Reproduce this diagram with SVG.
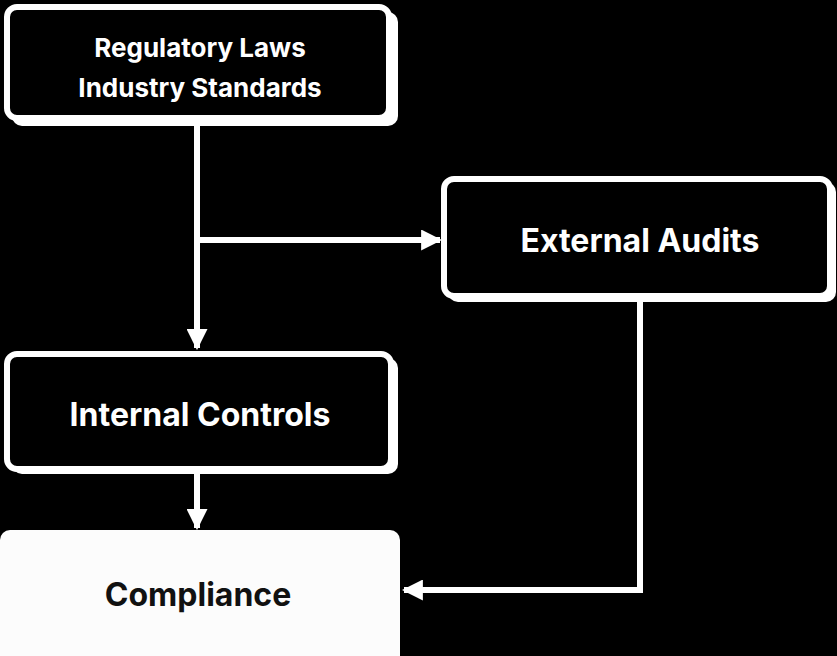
<svg xmlns="http://www.w3.org/2000/svg" width="837" height="656" viewBox="0 0 837 656">
<style>
.box{fill:#000;stroke:#fff;stroke-width:6}
.sh{fill:#fff}
.t{font-family:Inter,"Liberation Sans",sans-serif;font-weight:700;font-size:32px;fill:#fff;text-anchor:middle;dominant-baseline:central}
.t2{font-size:26px}
.dark{fill:#111}
.c{fill:none;stroke:#fff;stroke-width:6}
</style>
<defs>
<marker id="ah" viewBox="0 0 10 10" refX="9" refY="5" markerWidth="3.5" markerHeight="3.5" orient="auto" markerUnits="strokeWidth">
<path d="M0,0 L10,5 L0,10 z" fill="#fff"/>
</marker>
</defs>
<rect width="837" height="656" fill="#000"/>
<g id="connectors">
<line class="c" x1="197" y1="124" x2="197" y2="348" marker-end="url(#ah)"/>
<line class="c" x1="197" y1="240" x2="440" y2="240" marker-end="url(#ah)"/>
<line class="c" x1="197" y1="474" x2="197" y2="528" marker-end="url(#ah)"/>
<polyline class="c" points="640,302 640,590 404,590" marker-end="url(#ah)"/>
</g>
<g id="node-regulations">
<rect class="sh" x="12" y="12" width="386" height="114" rx="10"/>
<rect class="box" x="7" y="7" width="382" height="111" rx="10"/>
<text class="t t2" x="200" y="47">Regulatory Laws</text>
<text class="t t2" x="200" y="87">Industry Standards</text>
</g>
<g id="node-audits">
<rect class="sh" x="448" y="182" width="388" height="120" rx="10"/>
<rect class="box" x="444" y="179" width="386" height="117" rx="10"/>
<text class="t" x="640" y="240">External Audits</text>
</g>
<g id="node-controls">
<rect class="sh" x="12" y="358" width="386" height="116" rx="10"/>
<rect class="box" x="7" y="354" width="384" height="115" rx="10"/>
<text class="t" x="200" y="414">Internal Controls</text>
</g>
<g id="node-compliance">
<rect x="0" y="530" width="400" height="140" rx="10" fill="#fcfcfc"/>
<text class="t dark" x="198" y="594">Compliance</text>
</g>
</svg>
